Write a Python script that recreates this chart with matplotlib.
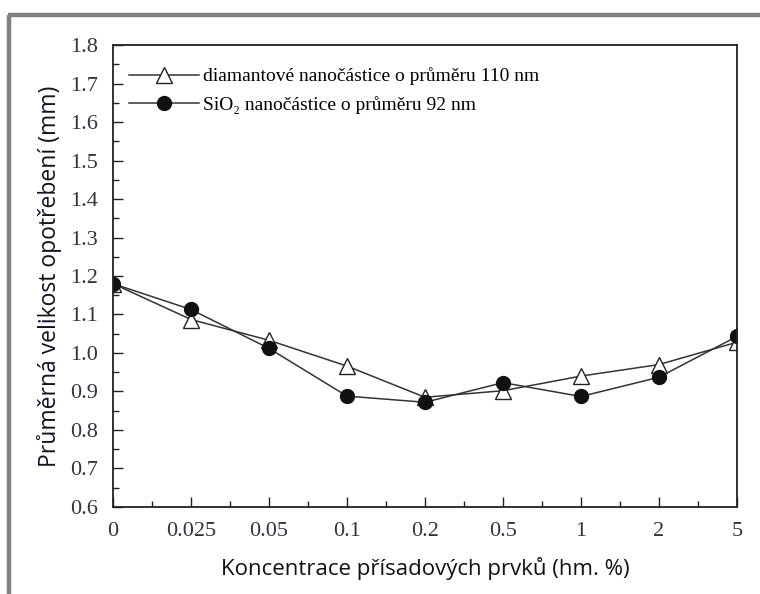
import numpy as np
import matplotlib.pyplot as plt
from matplotlib.lines import Line2D

# Hodnoty
koncentrace = ['0', '0.025', '0.05', '0.1', '0.2', '0.5', '1', '2', '5']
diamant = [1.18, 1.087, 1.033, 0.966, 0.885, 0.902, 0.94, 0.97, 1.028]
sio2 = [1.18, 1.113, 1.012, 0.888, 0.872, 0.923, 0.887, 0.937, 1.043]
y_ticks = [0.6, 0.7, 0.8, 0.9, 1.0, 1.1, 1.2, 1.3, 1.4, 1.5, 1.6, 1.7, 1.8]

serif = ['Liberation Serif', 'DejaVu Serif']
sans = ['Open Sans', 'DejaVu Sans']

fig = plt.figure(figsize=(7.6, 5.94), dpi=100)
ax = fig.add_axes([0.1487, 0.1465, 0.821, 0.7777])

x = np.arange(len(koncentrace))
ax.plot(x, diamant, color='#333333', lw=1.1, marker='^', ms=11,
        mfc='white', mec='#222222', mew=1.0,
        label='diamantové nanočástice o průměru 110 nm')
ax.plot(x, sio2, color='#333333', lw=1.1, marker='o', ms=10,
        mfc='#111111', mec='#111111',
        label='SiO₂ nanočástice o průměru 92 nm')

ax.set_xlim(0, len(koncentrace) - 1)
ax.set_ylim(0.6, 1.8)
ax.set_xticks(x)
ax.set_xticklabels(koncentrace)
ax.set_xticks(x[:-1] + 0.5, minor=True)
ax.set_yticks(y_ticks)
ax.set_yticklabels([f'{v:.1f}' for v in y_ticks])
ax.set_yticks(np.arange(0.65, 1.8, 0.1), minor=True)
ax.tick_params(which='both', direction='in', top=False, right=False,
               labelsize=16, labelcolor='#33333f', color='#222222')
ax.tick_params(which='major', length=7, width=1.0, pad=11)
ax.tick_params(which='minor', length=4, width=1.0)
for lab in ax.get_xticklabels() + ax.get_yticklabels():
    lab.set_family(serif)
for s in ax.spines.values():
    s.set_linewidth(1.3)
    s.set_color('#222222')

ax.set_xlabel('Koncentrace přísadových prvků (hm. %)', family=sans,
              fontsize=16, color='#111111', labelpad=11)
ax.set_ylabel('Průměrná velikost opotřebení (mm)', family=sans,
              fontsize=16.5, color='#111122', labelpad=6)

leg = ax.legend(loc='upper left', bbox_to_anchor=(0.0, 0.985), frameon=False,
                handlelength=3.6, handletextpad=0.25, labelspacing=0.55,
                borderaxespad=0.4, prop={'family': serif, 'size': 14})

# šedý rámeček kolem obrázku
fig.add_artist(Line2D([9 / 760, 9 / 760], [0, 1 - 15 / 594],
                      color='#808080', lw=3.2, solid_capstyle='butt'))
fig.add_artist(Line2D([7.8 / 760, 1], [1 - 15 / 594, 1 - 15 / 594],
                      color='#808080', lw=3.2, solid_capstyle='butt'))

fig.savefig('out.png', dpi=100)
